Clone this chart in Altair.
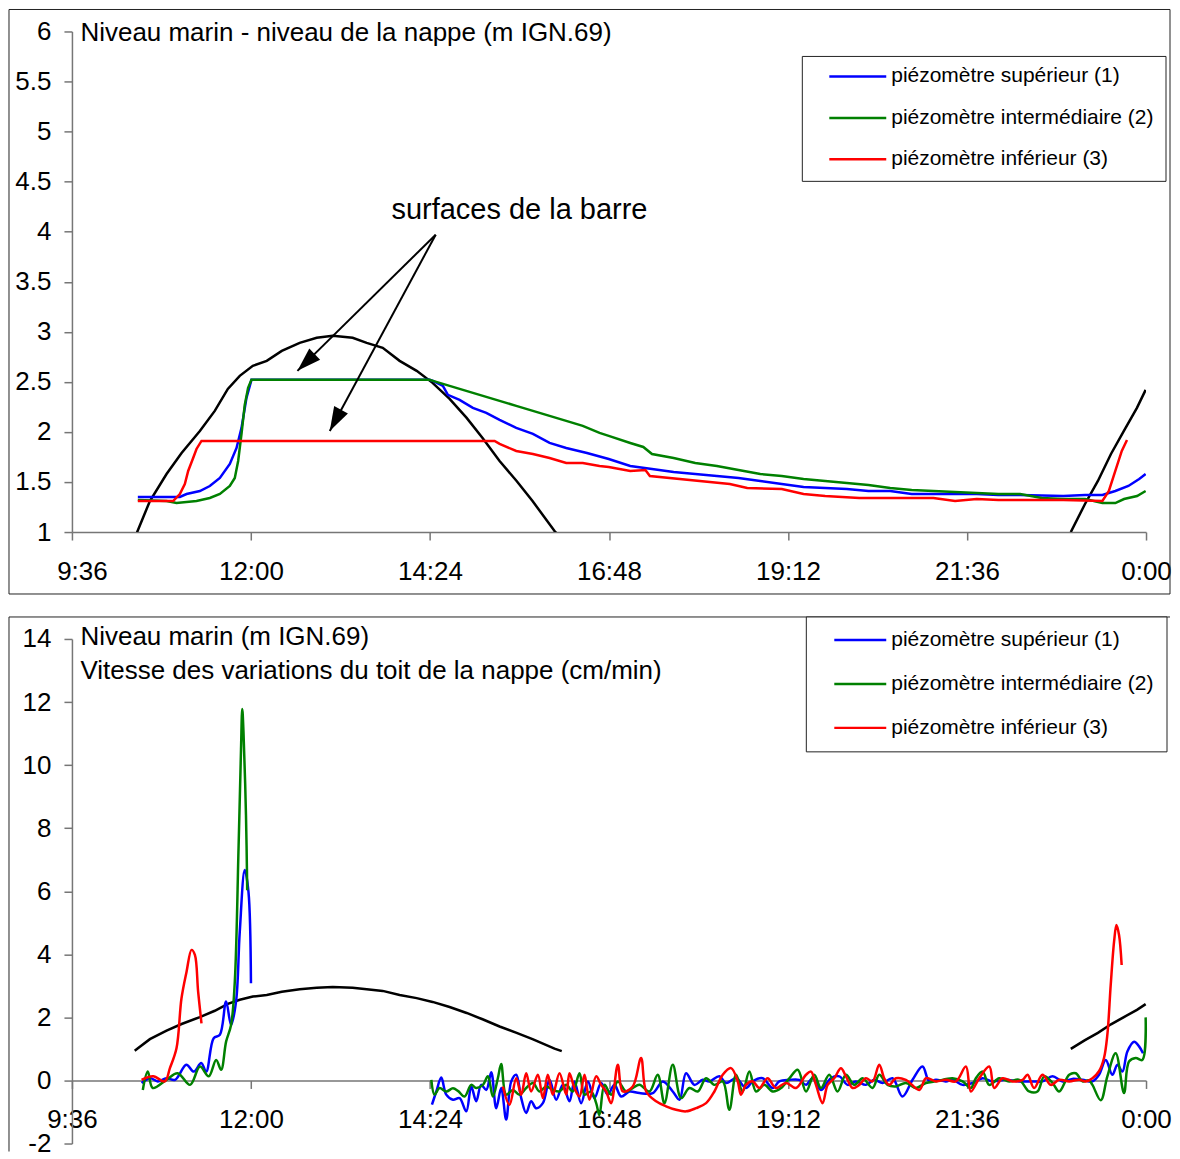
import altair as alt
import pandas as pd

FONT = "Liberation Sans"
S1 = "piézomètre supérieur (1)"
S2 = "piézomètre intermédiaire (2)"
S3 = "piézomètre inférieur (3)"
SERIES = [S1, S2, S3]
COLORS = ["#0000ff", "#008000", "#ff0000"]

# x positions: minutes after midnight
X_TICKS = [576, 720, 864, 1008, 1152, 1296, 1440]
Y_TICKS_TOP = [1, 1.5, 2, 2.5, 3, 3.5, 4, 4.5, 5, 5.5, 6]
Y_TICKS_BOT = [-2, 0, 2, 4, 6, 8, 10, 12, 14]

TITLE_TOP = "Niveau marin - niveau de la nappe (m IGN.69)"
TITLE_BOT = ["Niveau marin (m IGN.69)",
             "Vitesse des variations du toit de la nappe (cm/min)"]

# sea level (m IGN.69), two segments
sea_a = [(626.5, 0.94), (628.8, 1.01), (638.7, 1.31), (652.1, 1.58), (664.2, 1.79),
         (678.9, 2.01), (690.9, 2.21), (701.4, 2.43), (711.0, 2.56), (721.5, 2.66),
         (732.7, 2.71), (744.8, 2.81), (759.2, 2.89), (772.9, 2.94), (785.8, 2.96),
         (801.8, 2.94), (813.1, 2.89), (826.0, 2.84), (839.6, 2.71), (853.3, 2.61),
         (866.1, 2.49), (879.8, 2.33), (893.5, 2.14), (906.3, 1.94), (920.0, 1.71),
         (933.7, 1.51), (946.5, 1.31), (964.2, 1.01), (970.0, 0.93)]
sea_b = [(1379.5, 1.0), (1390.9, 1.28), (1401.3, 1.51), (1411.8, 1.78), (1422.2, 2.01),
         (1432.7, 2.24), (1439.7, 2.42)]

# water table levels (top panel)
top_sup = [(629.0, 1.35), (662.8, 1.35), (668.2, 1.38), (678.9, 1.41), (686.9, 1.46),
           (695.0, 1.54), (703.0, 1.68), (708.4, 1.84), (712.4, 2.04), (716.4, 2.34),
           (720.4, 2.52), (863.7, 2.52), (866.4, 2.51), (874.4, 2.46), (878.4, 2.37),
           (887.8, 2.32), (898.5, 2.24), (909.3, 2.19), (920.0, 2.12), (933.4, 2.04),
           (946.8, 1.98), (960.2, 1.89), (973.6, 1.84), (990.3, 1.79), (1007.8, 1.73),
           (1025.1, 1.66), (1042.6, 1.63), (1060.0, 1.60), (1077.4, 1.58), (1094.8, 1.56),
           (1112.2, 1.54), (1129.7, 1.51), (1147.0, 1.48), (1164.5, 1.45), (1181.9, 1.44),
           (1199.3, 1.43), (1216.7, 1.41), (1234.2, 1.41), (1251.5, 1.38), (1269.0, 1.38),
           (1303.8, 1.38), (1321.3, 1.37), (1338.7, 1.37), (1373.5, 1.36), (1391.0, 1.37),
           (1404.9, 1.37), (1415.3, 1.41), (1425.8, 1.46), (1434.5, 1.53), (1439.7, 1.58)]
top_int = [(629.0, 1.32), (652.1, 1.31), (660.1, 1.29), (676.2, 1.31), (686.9, 1.34),
           (695.0, 1.38), (703.0, 1.46), (707.0, 1.54), (709.7, 1.71), (712.4, 1.98),
           (715.0, 2.27), (717.7, 2.44), (720.4, 2.52), (863.7, 2.52), (866.4, 2.51),
           (879.8, 2.46), (893.2, 2.41), (906.6, 2.36), (920.0, 2.31), (933.4, 2.26),
           (946.8, 2.21), (960.2, 2.16), (973.6, 2.11), (986.9, 2.06), (1000.4, 1.99),
           (1007.8, 1.96), (1025.1, 1.89), (1035.6, 1.85), (1042.6, 1.78), (1060.0, 1.74),
           (1077.4, 1.69), (1094.8, 1.66), (1112.2, 1.62), (1129.7, 1.58), (1147.0, 1.56),
           (1164.5, 1.53), (1181.9, 1.51), (1199.3, 1.49), (1216.7, 1.47), (1234.2, 1.44),
           (1251.5, 1.42), (1269.0, 1.41), (1286.4, 1.40), (1303.8, 1.39), (1321.3, 1.38),
           (1338.7, 1.38), (1356.1, 1.34), (1373.5, 1.33), (1391.0, 1.33), (1404.9, 1.29),
           (1415.3, 1.29), (1422.3, 1.33), (1432.8, 1.36), (1439.7, 1.41)]
top_inf = [(629.0, 1.31), (657.4, 1.31), (662.8, 1.38), (666.8, 1.48), (669.5, 1.61),
           (673.5, 1.74), (676.2, 1.83), (680.2, 1.91), (916.0, 1.91), (920.0, 1.88),
           (933.4, 1.81), (946.8, 1.78), (960.2, 1.74), (973.6, 1.69), (986.9, 1.69),
           (1000.4, 1.66), (1007.8, 1.65), (1025.1, 1.61), (1037.3, 1.62), (1040.9, 1.56),
           (1105.2, 1.48), (1119.2, 1.44), (1147.0, 1.43), (1164.5, 1.38), (1181.9, 1.36),
           (1209.3, 1.34), (1234.2, 1.34), (1251.5, 1.34), (1269.0, 1.34), (1286.4, 1.31),
           (1303.8, 1.33), (1321.3, 1.32), (1338.7, 1.32), (1373.5, 1.32), (1404.9, 1.31),
           (1410.1, 1.41), (1415.3, 1.61), (1420.5, 1.81), (1424.7, 1.92)]

# speed of water-table variations, cm/min (bottom panel)
bot_sup_a = [(632, -0.08), (639, 0.07), (645, -0.03), (652, 0.07), (659, 0.02), (668, 0.5),
             (674, 0.28), (680, 0.55), (684, 0.28), (690, 1.34), (695, 1.45), (700, 2.5),
             (704, 1.76), (708, 2.5), (711, 4.72), (715, 6.67), (718, 5.98), (720, 3.08)]
bot_sup_b = [(865.6, -0.77), (869.1, -0.35), (873.1, 0.09), (877.1, -0.45), (882.5, -0.61),
             (887.8, -0.56), (893.2, -0.98), (897.2, -0.19), (901.2, -0.66), (905.2, -0.14),
             (909.3, -0.3), (913.3, 0.26), (917.3, -0.88), (921.3, -0.24), (925.3, -1.24),
             (929.4, -0.03), (933.4, 0.18), (937.4, -0.56), (941.4, -1.03), (945.4, -0.66),
             (949.4, -0.88), (954.8, -0.72), (960.2, 0.02), (965.5, -0.61), (970.9, -0.14),
             (976.2, -0.66), (980.2, -0.03), (985.6, -0.72), (991.0, -0.03), (996.3, -0.56),
             (1001.7, -0.08), (1007.0, -0.45), (1012.4, -0.14), (1017.8, -0.51), (1024.5, -0.35),
             (1032.5, -0.4), (1043.2, -0.4), (1051.3, -0.03), (1059.3, -0.35), (1064.7, -0.61),
             (1070.0, 0.23), (1076.7, -0.14), (1083.4, 0.02), (1088.8, -0.03), (1096.8, 0.13),
             (1102.2, -0.08), (1110.2, 0.07), (1118.2, -0.24), (1123.6, -0.03), (1131.6, 0.07),
             (1139.7, -0.24), (1145.0, -0.03), (1153.1, 0.02), (1161.1, 0.02), (1166.5, -0.14),
             (1171.8, 0.07), (1178.5, -0.3), (1186.5, 0.07), (1193.3, 0.13), (1200.0, -0.14),
             (1206.6, -0.03), (1214.7, -0.14), (1221.4, 0.02), (1228.1, -0.08), (1236.1, 0.07),
             (1244.1, -0.51), (1252.2, 0.02), (1260.2, 0.44), (1265.6, -0.03), (1271.0, 0.02),
             (1279.0, -0.03), (1284.4, 0.02), (1292.4, -0.14), (1300.5, -0.08), (1308.5, 0.07),
             (1316.5, -0.03), (1327.3, 0.02), (1338.0, -0.03), (1348.7, -0.03), (1356.7, -0.03),
             (1364.8, 0.13), (1372.8, -0.03), (1380.8, 0.05), (1388.9, 0.02), (1396.9, -0.03),
             (1402.2, 0.18), (1407.6, 0.65), (1412.9, 0.18), (1417.0, 0.5), (1421.0, 0.28),
             (1425.0, 0.92), (1430.4, 1.23), (1434.4, 1.08), (1437.6, 0.86)]
bot_int_a = [(633, -0.3), (637, 0.28), (641, -0.24), (652, 0.02), (661, 0.23), (671, -0.14),
             (679, 0.44), (686, 0.13), (692, 0.65), (696, 0.34), (700, 1.23), (704, 1.76),
             (707, 3.13), (710, 7.35), (712, 10.5), (713, 11.78), (714, 11.04), (716, 8.41),
             (717, 6.03)]
bot_int_b = [(865.1, 0.02), (867.7, -0.45), (871.7, -0.24), (877.1, -0.35), (882.5, -0.25),
             (886.5, -0.33), (891.8, -0.51), (897.2, -0.14), (901.2, -0.24), (906.6, -0.14),
             (910.6, 0.13), (914.6, -0.51), (918.6, 0.07), (921.3, 0.52), (925.3, -0.45),
             (930.7, -0.3), (936.0, -0.45), (941.4, -0.24), (946.8, -0.08), (952.1, -0.35),
             (957.5, -0.19), (962.8, -0.3), (968.2, -0.35), (973.6, -0.14), (978.9, -0.35),
             (984.3, 0.23), (988.3, -0.45), (993.6, -0.35), (997.7, -0.72), (1000.3, -1.1),
             (1004.4, -0.14), (1009.7, -0.45), (1015.1, -0.03), (1021.8, -0.35), (1027.1, -0.24),
             (1032.5, -0.14), (1040.5, -0.35), (1047.2, 0.18), (1052.6, -0.72), (1059.3, 0.5),
             (1066.0, -0.56), (1072.7, -0.24), (1079.4, -0.35), (1086.1, 0.07), (1092.8, -0.14),
             (1099.5, -0.03), (1104.8, -0.93), (1110.2, 0.18), (1115.5, -0.35), (1120.9, 0.28),
             (1126.3, -0.35), (1133.0, -0.14), (1139.7, -0.35), (1146.4, -0.24), (1153.1, 0.07),
             (1159.8, 0.34), (1166.5, -0.35), (1173.1, 0.18), (1178.5, -0.24), (1185.2, 0.18),
             (1191.9, -0.35), (1198.6, 0.18), (1205.3, -0.14), (1212.0, 0.07), (1220.0, -0.24),
             (1225.4, 0.18), (1232.1, -0.14), (1238.8, -0.19), (1246.8, -0.08), (1254.9, -0.24),
             (1262.9, -0.08), (1270.9, -0.03), (1284.4, 0.07), (1292.4, -0.03), (1299.1, -0.24),
             (1303.1, 0.07), (1308.5, 0.28), (1313.9, -0.14), (1321.9, 0.07), (1329.9, -0.03),
             (1338.0, 0.02), (1346.0, -0.35), (1352.7, -0.35), (1358.1, 0.13), (1364.8, -0.08),
             (1370.1, -0.35), (1378.2, 0.18), (1383.5, 0.23), (1388.9, -0.03), (1394.2, 0.0),
             (1396.9, -0.14), (1403.6, -0.63), (1408.9, 0.13), (1415.6, 0.86), (1422.3, -0.4),
             (1426.3, 0.6), (1431.7, 0.71), (1437.0, 0.65), (1439.7, 2.0)]
bot_inf_a = [(632, 0.02), (641.4, 0.13), (650.7, -0.03), (654.8, 0.39), (660.1, 1.02),
             (664.1, 2.6), (668.2, 3.45), (672.2, 4.14), (674.9, 3.98), (677.5, 2.82),
             (680.2, 1.81)]
bot_inf_b = [(922.6, -0.19), (928.0, -0.77), (933.4, 0.07), (937.4, -0.45), (941.4, 0.23),
             (945.4, -0.35), (950.8, 0.18), (954.8, -0.56), (958.8, 0.18), (962.8, -0.45),
             (968.2, 0.23), (973.6, -0.45), (976.2, 0.23), (980.2, -0.24), (984.3, -0.51),
             (988.3, 0.18), (992.3, -0.61), (997.7, 0.13), (1001.7, -0.14), (1005.7, -0.35),
             (1009.7, -0.72), (1015.1, 0.5), (1019.1, -0.35), (1027.1, -0.19), (1033.8, 0.71),
             (1037.9, -0.35), (1045.9, -0.66), (1053.9, -0.82), (1062.0, -0.93), (1070.0, -0.98),
             (1078.0, -0.88), (1086.1, -0.72), (1092.8, -0.35), (1099.5, 0.18), (1106.2, 0.39),
             (1111.5, -0.02), (1114.2, -0.45), (1118.2, -0.14), (1123.6, -0.03), (1129.0, -0.24),
             (1135.6, 0.07), (1142.3, -0.24), (1150.4, -0.08), (1158.4, -0.24), (1166.5, 0.18),
             (1170.5, 0.28), (1174.5, -0.14), (1179.8, -0.72), (1183.9, -0.14), (1189.2, 0.07),
             (1194.6, 0.39), (1198.6, 0.13), (1204.0, -0.24), (1209.3, -0.14), (1214.7, 0.07),
             (1220.0, -0.03), (1225.4, 0.5), (1229.4, 0.07), (1233.4, -0.14), (1238.8, 0.07),
             (1246.8, 0.02), (1257.6, -0.3), (1263.0, 0.07), (1271.0, -0.03), (1279.0, 0.02),
             (1287.1, -0.03), (1295.1, 0.44), (1299.1, -0.35), (1305.8, 0.07), (1313.9, 0.44),
             (1317.9, -0.24), (1324.6, 0.07), (1332.6, -0.03), (1340.7, 0.02), (1344.7, 0.18),
             (1350.0, -0.24), (1356.7, 0.18), (1363.4, -0.14), (1370.1, 0.02), (1378.2, -0.03),
             (1386.2, 0.02), (1391.6, -0.03), (1396.9, 0.07), (1402.3, 0.3), (1406.2, 0.71),
             (1408.9, 1.45), (1411.6, 3.03), (1414.3, 4.4), (1416.2, 4.93), (1418.3, 4.61),
             (1420.4, 3.66)]

# annotation in the top panel
ANNOT_TEXT = ["surfaces de la barre"]
ANNOT_T = [936]
ANNOT_V = [4.22]
ARROW_T0 = [868.6, 868.6]
ARROW_V0 = [3.97, 3.97]
ARROW_T1 = [757.4, 783.4]
ARROW_V1 = [2.61, 2.01]
ARROW_ANGLE = [226, 208]

# ---------------------------------------------------------------- tables
sea_df = pd.DataFrame(
    [{"t": t, "v": v, "seg": "a"} for t, v in sea_a]
    + [{"t": t, "v": v, "seg": "b"} for t, v in sea_b])

top_df = pd.DataFrame(
    [{"t": t, "v": v, "s": name}
     for name, pts in [(S1, top_sup), (S2, top_int), (S3, top_inf)]
     for t, v in pts])

bot_df = pd.DataFrame(
    [{"t": t, "v": v, "s": name, "seg": f"{name}-{k}"}
     for name, segs in [(S1, [bot_sup_a, bot_sup_b]),
                        (S2, [bot_int_a, bot_int_b]),
                        (S3, [bot_inf_a, bot_inf_b])]
     for k, pts in enumerate(segs)
     for t, v in pts])

ann_df = pd.DataFrame({"t": ANNOT_T, "v": ANNOT_V, "label": ANNOT_TEXT})
arrow_df = pd.DataFrame({"t": ARROW_T0, "v": ARROW_V0, "t2": ARROW_T1, "v2": ARROW_V1})
head_df = pd.DataFrame({"t": ARROW_T1, "v": ARROW_V1, "ang": ARROW_ANGLE})
one = pd.DataFrame({"k": [0]})

# ---------------------------------------------------------------- layout
W = 1075
H1 = 501
H2 = 505
RIGHT = W + 24          # right edge of the panel frames (plot-relative px)
FRAME = "#222222"
AXIS_GREY = "#767676"
ARROW_PATH = "M0,0L-0.65,2L0.65,2Z"
LABEL_EXPR = ("floor(datum.value / 60) % 24 + ':' + "
              "(datum.value % 60 < 10 ? '0' : '') + (datum.value % 60)")

xscale = alt.Scale(domain=[576, 1440], nice=False, zero=False)


def x_axis(offset=0, first_shift=0):
    kw = dict(values=X_TICKS, labelExpr=LABEL_EXPR, tickSize=8, labelPadding=18,
              labelFontSize=26, labelOverlap=False, labelFlush=False, title=None,
              offset=offset)
    if first_shift:
        kw["labelOffset"] = {"condition": {"test": "datum.value == 576", "value": first_shift},
                             "value": 0}
    return alt.Axis(**kw)


def color_enc(lx, ly, sym_len, row_pad, sym_off, lab_off):
    return alt.Color(
        "s:N",
        scale=alt.Scale(domain=SERIES, range=COLORS),
        legend=alt.Legend(
            title=None, orient="none", legendX=lx, legendY=ly, direction="vertical",
            symbolType="stroke", symbolSize=sym_len * sym_len, symbolStrokeWidth=2.5,
            clipHeight=30, rowPadding=row_pad, symbolOffset=sym_off, labelOffset=lab_off,
            padding=5, labelFont=FONT, labelFontSize=21, labelColor="black",
            labelLimit=500),
    )


# ---------------- top panel
x_top = alt.X("t:Q", scale=xscale, axis=x_axis(first_shift=10))
y_top = alt.Y(
    "v:Q",
    scale=alt.Scale(domain=[1, 6], nice=False, zero=False),
    axis=alt.Axis(values=Y_TICKS_TOP, format="~g", tickSize=8, labelPadding=13,
                  labelFontSize=26, labelOverlap=False, title=TITLE_TOP, titleAngle=0,
                  titleAlign="left", titleBaseline="alphabetic", titleX=8, titleY=9.5,
                  titleFontSize=26, titleFontWeight="normal", titleColor="black",
                  titleLimit=1200),
)

top_frame = alt.Chart(one).mark_rect(fillOpacity=0, stroke=FRAME, strokeWidth=1).encode(
    x=alt.value(-63), x2=alt.value(RIGHT), y=alt.value(-22), y2=alt.value(H1 + 62))
top_legbox = alt.Chart(one).mark_rect(fill="white", stroke=FRAME, strokeWidth=1).encode(
    x=alt.value(731), x2=alt.value(RIGHT - 4), y=alt.value(25), y2=alt.value(150))
top_sea = alt.Chart(sea_df).mark_line(color="black", strokeWidth=2.5, clip=True).encode(
    x=x_top, y=y_top, detail="seg:N")
top_lines = alt.Chart(top_df).mark_line(strokeWidth=2.5, clip=True).encode(
    x=x_top, y=y_top, color=color_enc(731, 25, 57, 11.5, 20.5, 3.5))
top_shafts = alt.Chart(arrow_df).mark_rule(color="black", strokeWidth=2).encode(
    x=x_top, y=y_top, x2="t2:Q", y2="v2:Q")
top_heads = alt.Chart(head_df).mark_point(
    shape=ARROW_PATH, filled=True, size=576, color="black", opacity=1, strokeWidth=0
).encode(x=x_top, y=y_top, angle=alt.Angle("ang:Q", scale=None))
top_text = alt.Chart(ann_df).mark_text(
    font=FONT, fontSize=29, align="center", baseline="middle", color="black"
).encode(x=x_top, y=y_top, text="label:N")

top = alt.layer(top_frame, top_legbox, top_sea, top_lines, top_shafts, top_heads,
                top_text).properties(width=W, height=H1)

# ---------------- bottom panel
x_bot = alt.X("t:Q", scale=xscale, axis=x_axis(offset=-(H2 * 2 / 16)))
y_bot = alt.Y(
    "v:Q",
    scale=alt.Scale(domain=[-2, 14], nice=False, zero=False),
    axis=alt.Axis(values=Y_TICKS_BOT,
                  labelExpr="datum.value < 0 ? '-' + (-datum.value) : '' + datum.value",
                  tickSize=8, labelPadding=13,
                  labelFontSize=26, labelOverlap=False, title=TITLE_BOT, titleAngle=0,
                  titleAlign="left", titleBaseline="alphabetic", titleX=8, titleY=6,
                  titleLineHeight=34, titleFontSize=26, titleFontWeight="normal",
                  titleColor="black", titleLimit=1200),
)

bot_frame_top = alt.Chart(one).mark_rule(color=FRAME, strokeWidth=1).encode(
    x=alt.value(-63), x2=alt.value(RIGHT), y=alt.value(-22))
bot_frame_left = alt.Chart(one).mark_rule(color=FRAME, strokeWidth=1).encode(
    x=alt.value(-63), y=alt.value(-22), y2=alt.value(H2 + 8))
bot_legbox = alt.Chart(one).mark_rect(fill="white", stroke=FRAME, strokeWidth=1).encode(
    x=alt.value(735), x2=alt.value(RIGHT - 3), y=alt.value(-22), y2=alt.value(113))
bot_sea = alt.Chart(sea_df).mark_line(color="black", strokeWidth=2.5).encode(
    x=x_bot, y=y_bot, detail="seg:N")
bot_lines = alt.Chart(bot_df).mark_line(strokeWidth=2.5, interpolate="catmull-rom").encode(
    x=x_bot, y=y_bot, detail="seg:N", color=color_enc(735, -19, 52, 14, 21.5, 3.5))

bottom = alt.layer(bot_frame_top, bot_frame_left, bot_legbox, bot_sea,
                   bot_lines).properties(width=W, height=H2)

chart = (
    alt.vconcat(top, bottom, spacing=21, padding=0)
    .resolve_scale(color="independent")
    .resolve_legend(color="independent")
    .configure_view(stroke="transparent")
    .configure_axis(labelFont=FONT, titleFont=FONT, labelColor="black",
                    domainColor=AXIS_GREY, tickColor=AXIS_GREY, domainWidth=1.5,
                    tickWidth=1.5, grid=False)
)

chart.save("out.html", embed_options={"renderer": "svg", "actions": False})
